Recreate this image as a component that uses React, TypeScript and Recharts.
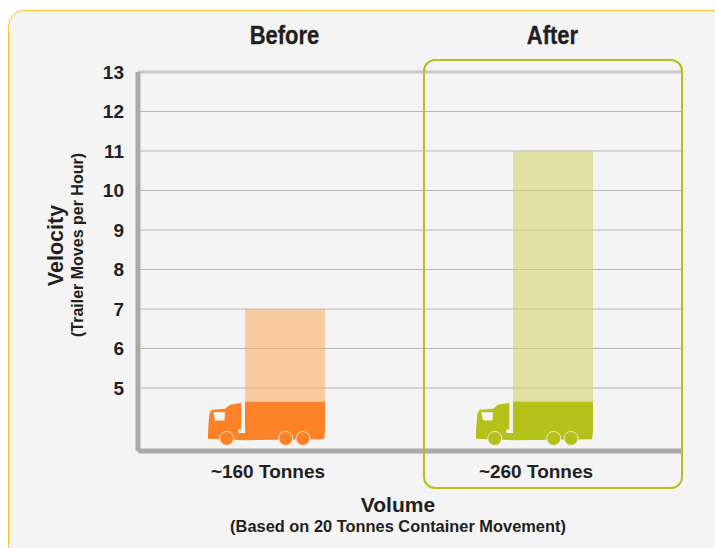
import { BarChart, Bar, XAxis, YAxis, CartesianGrid, ReferenceLine, Cell } from 'recharts';

const periods = ['Before', 'After'];
const volumes = ['~160 Tonnes', '~260 Tonnes'];
const velocity = [7, 11];
const truckFloor = [3.68, 3.68];
const truckRoof = [4.66, 4.66];
const yTicks = [5, 6, 7, 8, 9, 10, 11, 12, 13];

const truckColors = ['#fd8227', '#b5c118'];
const loadColors = ['#ffaa5b', '#d0d261'];
const FONT = '"Liberation Sans", Arial, sans-serif';

const data = periods.map((period, i) => ({
  period,
  volume: volumes[i],
  floor: truckFloor[i],
  cargo: truckRoof[i] - truckFloor[i],
  rest: velocity[i] - truckRoof[i],
}));

function Truck(props: any) {
  const { x, y, width, height, fill } = props;
  const bottom = y + height;
  const cab = `M${x - 3.7} ${y + 1.3} L${x - 15} ${y + 3.3} L${x - 20} ${y + 7.3} L${x - 33.3} ${y + 8.3}
    L${x - 35.7} ${y + 12.3} L${x - 37} ${y + 30} L${x - 37} ${bottom - 1.5} L${x} ${bottom}
    L${x + width - 1} ${bottom - 1} L${x + width} ${y + 30} L${x + width} ${y} L${x} ${y} L${x} ${y + 31.6}
    L${x - 6.7} ${y + 31.6} L${x - 6.7} ${y + 28} L${x - 3.7} ${y + 28} Z`;
  const wheels = [-18.3, 40.7, 58];
  return (
    <g>
      <path d={cab} fill={fill} />
      <path
        d={`M${x - 31.7} ${y + 10.7} L${x - 20} ${y + 10.7} L${x - 20.5} ${y + 19} L${x - 30} ${y + 19} Z`}
        fill="#f5f5f5"
      />
      {wheels.map((dx) => (
        <circle key={dx} cx={x + dx} cy={y + 37} r={7} fill={fill} stroke="#f5f5f5" strokeWidth={0.8} />
      ))}
    </g>
  );
}

const tickStyle = { fill: '#231f20', fontSize: 19, fontWeight: 700, fontFamily: FONT };

// the headings are a narrower bold than anything installed, so squeeze them
function HeadingTick({ x, payload }: any) {
  return (
    <text
      transform={`translate(${x - 0.5} 44) scale(0.88 1)`}
      textAnchor="middle"
      fill="#231f20"
      fontSize={25}
      fontWeight={700}
      fontFamily={FONT}
      stroke="#231f20"
      strokeWidth={0.3}
    >
      {payload.value}
    </text>
  );
}

function Note({ style, children }: any) {
  return (
    <div
      style={{
        position: 'absolute',
        color: '#231f20',
        fontFamily: FONT,
        fontWeight: 700,
        whiteSpace: 'nowrap',
        textAlign: 'center',
        ...style,
      }}
    >
      {children}
    </div>
  );
}

export default function App() {
  return (
    <div style={{ position: 'absolute', left: 0, top: 0, width: 715, height: 548, background: '#fff', overflow: 'hidden' }}>
      <div
        style={{
          position: 'absolute',
          left: 8,
          top: 10,
          width: 720,
          height: 550,
          background: '#f4f4f4',
          border: '1px solid #fdc32d',
          borderRadius: 16,
        }}
      />
      <div style={{ position: 'absolute', left: 0, top: 0 }}>
        <BarChart
          width={715}
          height={548}
          data={data}
          barSize={80}
          margin={{ top: 36, right: 33, bottom: 57, left: 100 }}
        >
          <CartesianGrid xAxisId="bottom" horizontal vertical={false} stroke="#b8b8b8" strokeWidth={1.2} />
          <XAxis
            xAxisId="top"
            orientation="top"
            dataKey="period"
            height={36}
            axisLine={false}
            tickLine={false}
            padding={{ left: 13, right: -5 }}
            tick={<HeadingTick />}
          />
          <XAxis
            xAxisId="bottom"
            dataKey="volume"
            height={40}
            axisLine={{ stroke: '#aaaaaa', strokeWidth: 5 }}
            tickLine={false}
            padding={{ left: 13, right: -5 }}
            tickMargin={8}
            dx={-17}
            tick={tickStyle}
          />
          <YAxis
            width={38}
            domain={[3.405, 13]}
            ticks={yTicks}
            interval={0}
            allowDataOverflow
            axisLine={{ stroke: '#aaaaaa', strokeWidth: 5 }}
            tickLine={false}
            tickMargin={8}
            tick={tickStyle}
          />
          <ReferenceLine xAxisId="bottom" y={13} stroke="#c8c8c8" strokeWidth={3} />
          <Bar xAxisId="bottom" dataKey="floor" stackId="truck" fill="none" isAnimationActive={false} />
          <Bar
            xAxisId="bottom"
            dataKey="cargo"
            stackId="truck"
            isAnimationActive={false}
            shape={(p: any) => <Truck {...p} fill={truckColors[p.index]} />}
          />
          <Bar xAxisId="bottom" dataKey="rest" stackId="truck" fillOpacity={0.55} isAnimationActive={false}>
            {periods.map((p, i) => (
              <Cell key={p} fill={loadColors[i]} />
            ))}
          </Bar>
        </BarChart>
      </div>
      <div
        style={{
          position: 'absolute',
          left: 423,
          top: 59,
          width: 256,
          height: 426,
          border: '2.5px solid #b5c118',
          borderRadius: 12,
        }}
      />
      <Note style={{ left: 298, top: 493, width: 200, fontSize: 21 }}>Volume</Note>
      <Note style={{ left: 198, top: 517, width: 400, fontSize: 16.4 }}>(Based on 20 Tonnes Container Movement)</Note>
      <Note style={{ left: 56, top: 233, width: 200, fontSize: 21.5, transform: 'translate(-100px, 0) rotate(-90deg)' }}>
        Velocity
      </Note>
      <Note style={{ left: 78, top: 236, width: 200, fontSize: 16, transform: 'translate(-100px, 0) rotate(-90deg)' }}>
        (Trailer Moves per Hour)
      </Note>
    </div>
  );
}
